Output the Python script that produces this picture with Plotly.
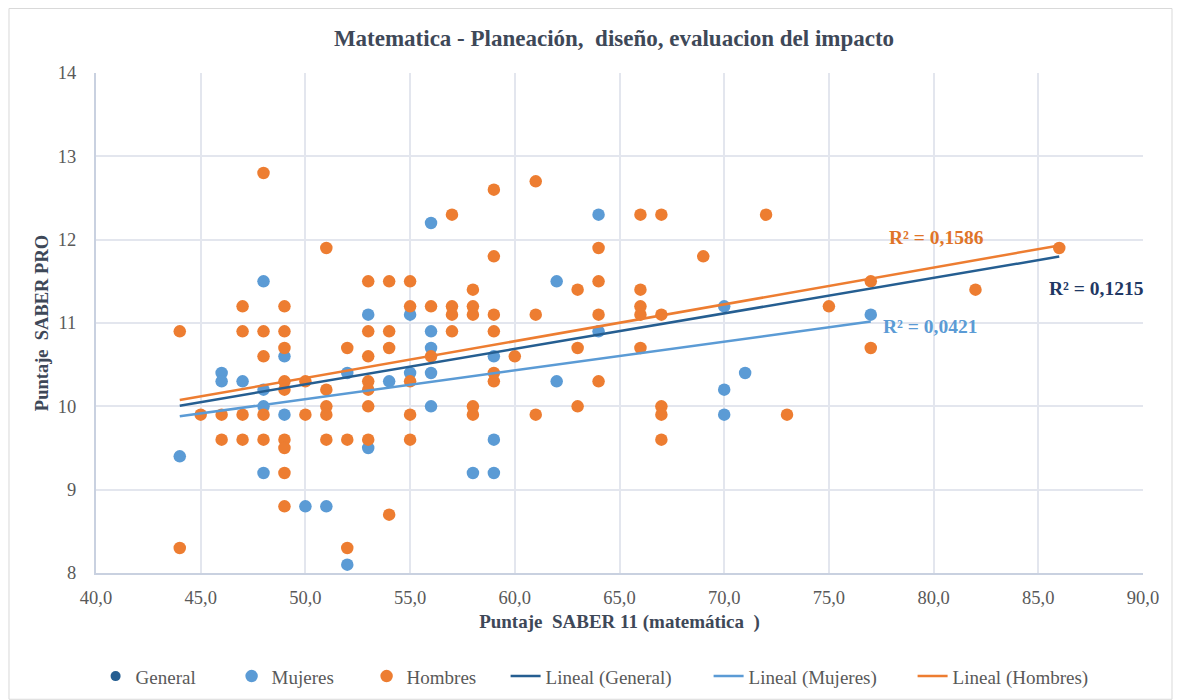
import numpy as np
import plotly.graph_objects as go

# Mujeres (SABER 11 matemática, SABER PRO)
mujeres_x = [44, 46, 46, 47, 48, 48, 48, 48, 49, 49, 50, 51, 52, 52, 53, 53, 54, 55, 55,
             56, 56, 56, 56, 56, 58, 59, 59, 59, 62, 62, 64, 64, 70, 70, 70, 71, 77]
mujeres_y = [9.4, 10.4, 10.3, 10.3, 11.5, 10.2, 10.0, 9.2, 10.6, 9.9, 8.8, 8.8, 10.4, 8.1, 11.1, 9.5, 10.3, 11.1, 10.4,
             12.2, 10.9, 10.7, 10.4, 10.0, 9.2, 10.6, 9.6, 9.2, 11.5, 10.3, 12.3, 10.9, 11.2, 10.2, 9.9, 10.4, 11.1]

# Hombres
hombres_x = [44, 44, 45, 46, 46, 47, 47, 47, 47, 48, 48, 48, 48, 48,
             49, 49, 49, 49, 49, 49, 49, 49, 49, 50, 50,
             51, 51, 51, 51, 51, 52, 52, 52,
             53, 53, 53, 53, 53, 53, 53, 54, 54, 54, 54,
             55, 55, 55, 55, 55, 56, 56, 57, 57, 57, 57,
             58, 58, 58, 58, 58, 59, 59, 59, 59, 59, 59, 60,
             61, 61, 61, 63, 63, 63, 64, 64, 64, 64,
             66, 66, 66, 66, 66, 67, 67, 67, 67, 67, 69, 72, 73, 75, 77, 77, 82, 86]
hombres_y = [10.9, 8.3, 9.9, 9.9, 9.6, 11.2, 10.9, 9.9, 9.6, 12.8, 10.9, 10.6, 9.9, 9.6,
             11.2, 10.9, 10.7, 10.3, 10.2, 9.6, 9.5, 9.2, 8.8, 10.3, 9.9,
             11.9, 10.2, 10.0, 9.9, 9.6, 10.7, 9.6, 8.3,
             11.5, 10.9, 10.6, 10.3, 10.2, 10.0, 9.6, 11.5, 10.9, 10.7, 8.7,
             11.5, 11.2, 10.3, 9.9, 9.6, 11.2, 10.6, 12.3, 11.2, 11.1, 10.9,
             11.4, 11.2, 11.1, 10.0, 9.9, 12.6, 11.8, 11.1, 10.9, 10.4, 10.3, 10.6,
             12.7, 11.1, 9.9, 11.4, 10.7, 10.0, 11.9, 11.5, 11.1, 10.3,
             12.3, 11.4, 11.2, 11.1, 10.7, 12.3, 11.1, 10.0, 9.9, 9.6, 11.8, 12.3, 9.9, 11.2, 11.5, 10.7, 11.4, 11.9]

general_x = mujeres_x + hombres_x
general_y = mujeres_y + hombres_y

r2_labels = {"General": "R² = 0,1215", "Mujeres": "R² = 0,0421", "Hombres": "R² = 0,1586"}

C_GEN = "#255E91"
C_MUJ = "#5B9BD5"
C_HOM = "#ED7D31"
SERIF = "Liberation Serif, Times New Roman, serif"

# page offset of the figure inside the html body (default body margin)
OFF = 8


def trend(xs, ys):
    m, b = np.polyfit(xs, ys, 1)
    x0, x1 = min(xs), max(xs)
    return [x0, x1], [m * x0 + b, m * x1 + b]


fig = go.Figure()
fig.add_trace(go.Scatter(x=general_x, y=general_y, mode="markers", name="General", legendwidth=91,
                         marker=dict(color=C_GEN, size=10, line=dict(width=0))))
fig.add_trace(go.Scatter(x=mujeres_x, y=mujeres_y, mode="markers", name="Mujeres", legendwidth=90,
                         marker=dict(color=C_MUJ, size=12.5, line=dict(width=0))))
fig.add_trace(go.Scatter(x=hombres_x, y=hombres_y, mode="markers", name="Hombres", legendwidth=94,
                         marker=dict(color=C_HOM, size=12.5, line=dict(width=0))))

for nm, xs, ys, col, lw in [("General", general_x, general_y, C_GEN, 158),
                            ("Mujeres", mujeres_x, mujeres_y, C_MUJ, 159),
                            ("Hombres", hombres_x, hombres_y, C_HOM, 150)]:
    tx, ty = trend(xs, ys)
    fig.add_trace(go.Scatter(x=tx, y=ty, mode="lines", name=f"Lineal ({nm})", legendwidth=lw,
                             line=dict(color=col, width=2.5)))

ann_font = dict(family=SERIF, size=19.5)
fig.add_annotation(x=80.16, y=12.03, text="<b>" + r2_labels["Hombres"] + "</b>", showarrow=False,
                   font=dict(color="#E07428", **ann_font))
fig.add_annotation(x=87.76, y=11.42, text="<b>" + r2_labels["General"] + "</b>", showarrow=False,
                   font=dict(color="#1F3864", **ann_font))
fig.add_annotation(x=79.83, y=10.96, text="<b>" + r2_labels["Mujeres"] + "</b>", showarrow=False,
                   font=dict(color=C_MUJ, **ann_font))

# outer chart border
fig.add_shape(type="rect", xref="paper", yref="paper", x0=-0.0831, x1=1.0277, y0=-0.2525, y1=1.129,
              line=dict(color="#D9D9D9", width=1), layer="below")

fig.update_layout(
    width=1184, height=700,
    paper_bgcolor="white", plot_bgcolor="white",
    separators=",.",
    margin=dict(l=96 - OFF, r=1184 - (1143 - OFF), t=72.5 - OFF, b=700 - (572.7 - OFF), autoexpand=False),
    title=dict(text="<b>Matematica - Planeación,  diseño, evaluacion del impacto</b>",
               x=(614 - 96) / 1047, xref="paper", y=1 - (38 - OFF) / 700, yanchor="middle", xanchor="center",
               font=dict(family=SERIF, size=23, color="#3E4858")),
    font=dict(family=SERIF, size=18, color="#595959"),
    showlegend=True,
    legend=dict(orientation="h", x=(95.6 - 96) / 1047, xanchor="left", y=(572.7 - 676) / 500.2,
                yanchor="middle", font=dict(family=SERIF, size=19, color="#595959"),
                tracegroupgap=0),
)
fig.update_xaxes(range=[40, 90], dtick=5, tick0=40, tickformat=".1f", automargin=False,
                 showgrid=True, gridcolor="#E3E6EE", gridwidth=1.5,
                 showline=True, linecolor="#C9D1E0", linewidth=2, zeroline=False,
                 ticks="outside", ticklen=7, tickcolor="rgba(0,0,0,0)",
                 tickfont=dict(family=SERIF, size=18.5, color="#595959"),
                 title=dict(text="<b>Puntaje  SABER 11 (matemática  )</b>", standoff=7,
                            font=dict(family=SERIF, size=19, color="#3E4858")))
fig.update_yaxes(range=[8, 14], dtick=1, tick0=8, automargin=False,
                 showgrid=True, gridcolor="#E3E6EE", gridwidth=1.5,
                 showline=True, linecolor="#C9D1E0", linewidth=2, zeroline=False,
                 ticks="outside", ticklen=14, tickcolor="rgba(0,0,0,0)",
                 tickfont=dict(family=SERIF, size=18.5, color="#595959"),
                 title=dict(text="<b>Puntaje  SABER PRO</b>", standoff=4,
                            font=dict(family=SERIF, size=18.5, color="#3E4858")))

fig.write_html("out.html")
